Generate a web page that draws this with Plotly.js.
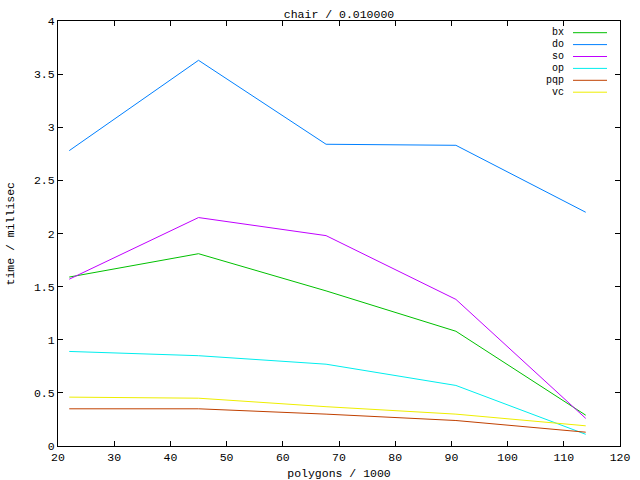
<!DOCTYPE html>
<html>
<head>
<meta charset="utf-8">
<script src="https://cdn.plot.ly/plotly-3.0.1.min.js"></script>
<style>html,body{margin:0;padding:0;background:#fff;}#chart{width:640px;height:480px;}</style>
</head>
<body>
<div id="chart"></div>
<script>
// Data
const polygons = [22.0, 45.0, 67.7, 90.8, 113.9];   // polygons / 1000
const seriesNames = ['bx', 'do', 'so', 'op', 'pqp', 'vc'];
const bx  = [1.59, 1.81, 1.46, 1.08, 0.29];
const doS = [2.78, 3.63, 2.84, 2.83, 2.20];
const so  = [1.57, 2.15, 1.98, 1.38, 0.26];
const op  = [0.89, 0.85, 0.77, 0.57, 0.11];
const pqp = [0.35, 0.35, 0.30, 0.24, 0.13];
const vc  = [0.46, 0.45, 0.37, 0.30, 0.19];
const seriesValues = [bx, doS, so, op, pqp, vc];
const seriesColors = ['#00c000', '#0080ff', '#c000ff', '#00eeee', '#c04000', '#eeee00'];
const titleText = 'chair / 0.010000';
const xTitle = 'polygons / 1000';
const yTitle = 'time / millisec';

const FONT = 'Liberation Mono, DejaVu Sans Mono, monospace';
const FS = 11.5;
const W = 640, H = 480;
const M = {l: 58, r: 20, t: 21, b: 34};
const plotW = W - M.l - M.r, plotH = H - M.t - M.b;
const px2x = px => (px - M.l) / plotW;
const py2y = py => (H - M.b - py) / plotH;

const traces = seriesNames.map((n, i) => ({
  type: 'scatter', mode: 'lines', name: n,
  x: polygons, y: seriesValues[i],
  line: {color: seriesColors[i], width: 1},
  showlegend: false, hoverinfo: 'skip'
}));

// gnuplot-style key: label right-aligned, then line sample
const annotations = [], shapes = [];
seriesNames.forEach((n, i) => {
  const py = 32.7 + 11.9 * i;
  annotations.push({
    xref: 'paper', yref: 'paper', x: px2x(566), y: py2y(py),
    xanchor: 'right', yanchor: 'middle', showarrow: false,
    text: n, font: {family: FONT, size: 10, color: '#000'}
  });
  shapes.push({
    type: 'line', xref: 'paper', yref: 'paper',
    x0: px2x(573), x1: px2x(607), y0: py2y(py), y1: py2y(py),
    line: {color: seriesColors[i], width: 1}
  });
});

// y-axis title drawn as a rotated annotation at gnuplot's position
annotations.push({
  xref: 'paper', yref: 'paper', x: px2x(10), y: 0.5,
  xanchor: 'center', yanchor: 'middle', showarrow: false, textangle: -90,
  text: yTitle, font: {family: FONT, size: FS, color: '#000'}
});

const axisCommon = {
  showgrid: false, zeroline: false, showline: true, mirror: 'ticks',
  linecolor: '#000', linewidth: 1, ticks: 'inside', ticklen: 5,
  tickcolor: '#000', tickwidth: 1,
  tickfont: {family: FONT, size: FS, color: '#000'}
};

const layout = {
  width: W, height: H, margin: M,
  paper_bgcolor: '#fff', plot_bgcolor: '#fff',
  font: {family: FONT, size: FS, color: '#000'},
  title: {text: titleText, font: {family: FONT, size: FS, color: '#000'},
          x: (M.l + plotW / 2) / W, xref: 'container', y: 1 - 14 / H, yref: 'container', yanchor: 'middle', xanchor: 'center'},
  xaxis: Object.assign({}, axisCommon, {
    range: [20, 120], dtick: 10, tick0: 20,
    title: {text: xTitle, font: {family: FONT, size: FS, color: '#000'}, standoff: 8}
  }),
  yaxis: Object.assign({}, axisCommon, {
    range: [0, 4], dtick: 0.5, tick0: 0
  }),
  annotations: annotations, shapes: shapes, showlegend: false
};

Plotly.newPlot('chart', traces, layout, {staticPlot: true, displayModeBar: false});
</script>
</body>
</html>
